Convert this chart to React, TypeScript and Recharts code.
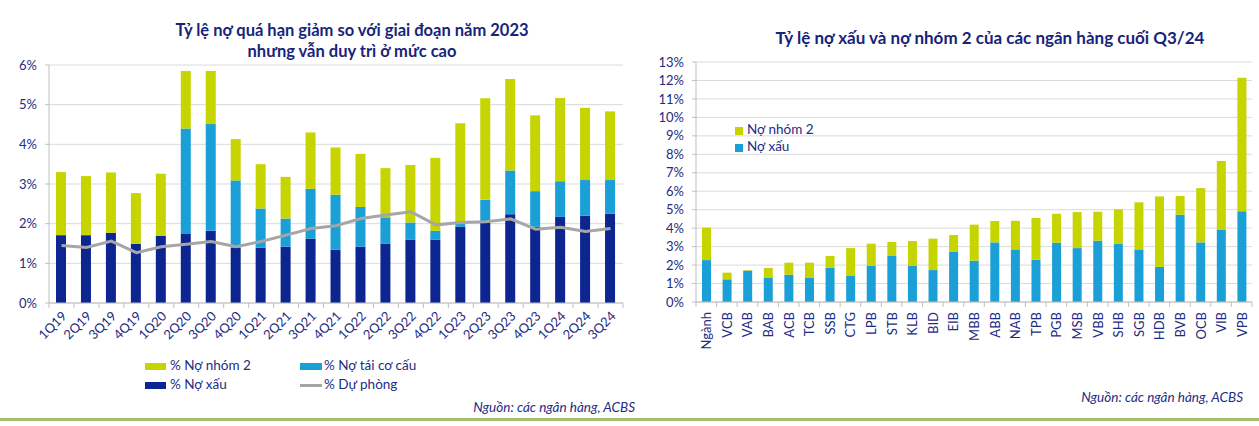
import { ComposedChart, BarChart, Bar, Line, XAxis, YAxis, CartesianGrid } from 'recharts';

const TXT = '#1d2c84';
const FONT = 'Lato, "Noto Sans", sans-serif';
const YEL = '#c6d400';
const CYAN = '#1a9fd6';
const NAVY = '#0c2590';
const GRAY = '#a6a6a6';
const GRID = '#dadada';

// left chart: overdue ratios by quarter (%)
const QUARTERS = ['1Q19','2Q19','3Q19','4Q19','1Q20','2Q20','3Q20','4Q20','1Q21','2Q21','3Q21','4Q21','1Q22','2Q22','3Q22','4Q22','1Q23','2Q23','3Q23','4Q23','1Q24','2Q24','3Q24'];
const NPL_Q = [1.71,1.71,1.77,1.49,1.69,1.74,1.82,1.39,1.39,1.42,1.62,1.34,1.42,1.50,1.60,1.60,1.92,2.02,2.24,1.92,2.17,2.20,2.25];
const RESTRUCT_Q = [0,0,0,0,0,2.66,2.69,1.70,0.99,0.71,1.26,1.39,1.00,0.66,0.43,0.22,0.07,0.58,1.10,0.90,0.90,0.90,0.85];
const GROUP2_Q = [1.59,1.49,1.52,1.28,1.57,1.45,1.34,1.04,1.12,1.05,1.42,1.19,1.34,1.24,1.45,1.84,2.54,2.56,2.31,1.91,2.10,1.82,1.73];
const PROVISION_Q = [1.45,1.40,1.56,1.27,1.42,1.48,1.55,1.42,1.55,1.71,1.88,1.95,2.13,2.22,2.30,1.97,2.03,2.05,2.12,1.86,1.91,1.80,1.88];
const LEFT_TICKS = [0,1,2,3,4,5,6];

// right chart: banks at end of Q3/24 (%)
const BANKS = ['Ngành','VCB','VAB','BAB','ACB','TCB','SSB','CTG','LPB','STB','KLB','BID','EIB','MBB','ABB','NAB','TPB','PGB','MSB','VBB','SHB','SGB','HDB','BVB','OCB','VIB','VPB'];
const NPL_B = [2.27,1.23,1.70,1.30,1.48,1.30,1.86,1.44,1.95,2.49,1.95,1.73,2.71,2.24,3.23,2.85,2.29,3.21,2.92,3.32,3.14,2.85,1.90,4.73,3.23,3.90,4.91];
const GROUP2_B = [1.76,0.36,0.03,0.54,0.65,0.83,0.63,1.48,1.21,0.76,1.35,1.70,0.92,1.95,1.16,1.55,2.26,1.57,1.95,1.57,1.88,2.55,3.82,1.01,2.94,3.74,7.24];
const RIGHT_TICKS = [0,1,2,3,4,5,6,7,8,9,10,11,12,13];

const leftData = QUARTERS.map((q,i)=>({q,npl:NPL_Q[i],res:RESTRUCT_Q[i],g2:GROUP2_Q[i],prov:PROVISION_Q[i]}));
const rightData = BANKS.map((b,i)=>({b,npl:NPL_B[i],g2:GROUP2_B[i]}));

const L_BAND = 574/QUARTERS.length;
const R_BAND = 556/BANKS.length;

const QTick = (p:any) => {
  const {x,y,payload,index} = p;
  return <g>
    <line x1={x-L_BAND/2} x2={x-L_BAND/2} y1={y-8} y2={y-3} stroke="#bfbfbf"/>
    {index===QUARTERS.length-1 && <line x1={x+L_BAND/2} x2={x+L_BAND/2} y1={y-8} y2={y-3} stroke="#bfbfbf"/>}
    <text x={x+6} y={y+6} transform={`rotate(-45,${x+6},${y+6})`} textAnchor="end" fill={TXT} fontSize={13} fontFamily={FONT}>{payload.value}</text>
  </g>;
};

const BTick = (p:any) => {
  const {x,y,payload,index} = p;
  return <g>
    <line x1={x-R_BAND/2} x2={x-R_BAND/2} y1={y-8} y2={y-3} stroke="#bfbfbf"/>
    {index===BANKS.length-1 && <line x1={x+R_BAND/2} x2={x+R_BAND/2} y1={y-8} y2={y-3} stroke="#bfbfbf"/>}
    <text x={x+5} y={y+2} transform={`rotate(-90,${x+5},${y+2})`} textAnchor="end" fill={TXT} fontSize={13} fontFamily={FONT}>{payload.value}</text>
  </g>;
};

const yTick = {fill:TXT,fontSize:13,fontFamily:FONT};
const abs = (l:number,t:number,extra:any={}) => ({position:'absolute' as const,left:l,top:t,...extra});

export default function App() {
  return (
    <div style={{position:'absolute',left:0,top:0,width:1259,height:426,background:'#fff',fontFamily:FONT,color:TXT,overflow:'hidden'}}>
      <div style={abs(0,20,{width:704,textAlign:'center',fontSize:16.5,fontWeight:700,lineHeight:'21px',color:'#17247a'})}>
        Tỷ lệ nợ quá hạn giảm so với giai đoạn năm 2023<br/>nhưng vẫn duy trì ở mức cao
      </div>
      <div style={abs(640,27,{width:700,textAlign:'center',fontSize:17,fontWeight:700,lineHeight:'21px',color:'#17247a'})}>
        Tỷ lệ nợ xấu và nợ nhóm 2 của các ngân hàng cuối Q3/24
      </div>

      <div style={abs(0,0)}>
        <ComposedChart width={640} height={360} data={leftData} margin={{top:65,right:17,bottom:27,left:0}} barCategoryGap={0}>
          <CartesianGrid vertical={false} stroke={GRID}/>
          <XAxis dataKey="q" height={30} interval={0} tick={<QTick/>} tickLine={false} axisLine={{stroke:'#bfbfbf'}}/>
          <YAxis width={49} domain={[0,6]} ticks={LEFT_TICKS} interval={0} tickFormatter={(v:number)=>`${v}%`} tick={yTick} axisLine={{stroke:'#bfbfbf'}} tickLine={{stroke:'#bfbfbf'}} tickSize={4} tickMargin={8}/>
          <Bar dataKey="npl" stackId="a" fill={NAVY} barSize={10} isAnimationActive={false}/>
          <Bar dataKey="res" stackId="a" fill={CYAN} barSize={10} isAnimationActive={false}/>
          <Bar dataKey="g2" stackId="a" fill={YEL} barSize={10} isAnimationActive={false}/>
          <Line dataKey="prov" type="linear" stroke={GRAY} strokeWidth={3} dot={false} activeDot={false} isAnimationActive={false}/>
        </ComposedChart>
      </div>

      <div style={abs(640,0)}>
        <BarChart width={619} height={360} data={rightData} margin={{top:62,right:7,bottom:28,left:0}} barCategoryGap={0}>
          <CartesianGrid vertical={false} stroke={GRID}/>
          <XAxis dataKey="b" height={30} interval={0} tick={<BTick/>} tickLine={false} axisLine={{stroke:'#bfbfbf'}}/>
          <YAxis width={56} domain={[0,13]} ticks={RIGHT_TICKS} interval={0} tickFormatter={(v:number)=>`${v}%`} tick={yTick} axisLine={{stroke:'#bfbfbf'}} tickLine={{stroke:'#bfbfbf'}} tickSize={4} tickMargin={8}/>
          <Bar dataKey="npl" stackId="a" fill={CYAN} barSize={9} isAnimationActive={false}/>
          <Bar dataKey="g2" stackId="a" fill={YEL} barSize={9} isAnimationActive={false}/>
        </BarChart>
      </div>

      {/* left legend */}
      <div style={abs(145,363,{width:21,height:7,background:YEL})}/>
      <div style={abs(170,357,{fontSize:13.5})}>% Nợ nhóm 2</div>
      <div style={abs(300,363,{width:22,height:7,background:CYAN})}/>
      <div style={abs(324,357,{fontSize:13.5})}>% Nợ tái cơ cấu</div>
      <div style={abs(145,382,{width:21,height:7,background:NAVY})}/>
      <div style={abs(170,376,{fontSize:13.5})}>% Nợ xấu</div>
      <div style={abs(300,384,{width:22,height:3,background:GRAY})}/>
      <div style={abs(324,376,{fontSize:13.5})}>% Dự phòng</div>

      {/* right legend */}
      <div style={abs(735,127,{width:8,height:8,background:YEL})}/>
      <div style={abs(747,121,{fontSize:13.5})}>Nợ nhóm 2</div>
      <div style={abs(735,144,{width:8,height:8,background:CYAN})}/>
      <div style={abs(747,138,{fontSize:13.5})}>Nợ xấu</div>

      <div style={abs(300,399,{width:335,textAlign:'right',fontSize:13.5,fontStyle:'italic'})}>Nguồn: các ngân hàng, ACBS</div>
      <div style={abs(900,389,{width:343,textAlign:'right',fontSize:13.5,fontStyle:'italic'})}>Nguồn: các ngân hàng, ACBS</div>

      <div style={abs(0,418,{width:1259,height:3,background:'#a9bd6e'})}/>
    </div>
  );
}
